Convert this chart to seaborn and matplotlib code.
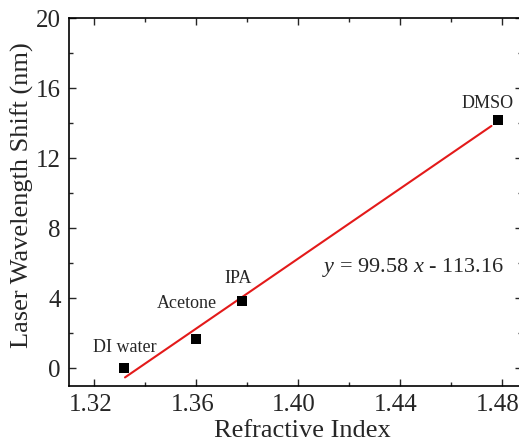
import matplotlib
matplotlib.use("Agg")
import matplotlib.pyplot as plt
from matplotlib.ticker import AutoMinorLocator, FixedLocator
from matplotlib.transforms import ScaledTranslation
import seaborn as sns
import pandas as pd

# data
solvents = ["DI water", "Acetone", "IPA", "DMSO"]
refractive_index = [1.3315, 1.36, 1.378, 1.4784]
wavelength_shift = [0.0, 1.7, 3.83, 14.2]
fit_x = [1.332, 1.476]
fit_y = [-0.51, 13.84]
x_ticks = [1.32, 1.36, 1.40, 1.44, 1.48]
y_ticks = [0, 4, 8, 12, 16, 20]

sns.set_style("ticks")
plt.rcParams["font.family"] = ["Liberation Serif", "DejaVu Serif"]
plt.rcParams["mathtext.fontset"] = "custom"
plt.rcParams["mathtext.it"] = "Liberation Serif:italic"
plt.rcParams["mathtext.rm"] = "Liberation Serif"

df = pd.DataFrame({"n": refractive_index, "shift": wavelength_shift, "name": solvents})
fit = pd.DataFrame({"x": fit_x, "y": fit_y})

fig = plt.figure(figsize=(5.19, 4.43), dpi=100)
L, R, T, B = 69, 522, 18, 386
ax = fig.add_axes([L / 519, 1 - B / 443, (R - L) / 519, (B - T) / 443])

sns.lineplot(data=fit, x="x", y="y", ax=ax, color="#e31a1a", linewidth=1.5, zorder=2)
sns.scatterplot(data=df, x="n", y="shift", ax=ax, marker="s", s=62, color="black",
                edgecolor="black", linewidth=0, zorder=3)

label_pos = {"DI water": (1.3318, 1.2), "Acetone": (1.3563, 3.7),
             "IPA": (1.3763, 5.14), "DMSO": (1.4745, 15.1)}
for name in solvents:
    tx, ty = label_pos[name]
    ax.text(tx, ty, name, ha="center", va="center", fontsize=13)

ax.text(1.4095, 5.77, r"$\it{y}$ = 99.58 $\it{x}$ - 113.16", ha="left", va="center", fontsize=16)

ax.set_xlim(1.31, 1.488)
ax.set_ylim(-1, 20)
ax.xaxis.set_major_locator(FixedLocator(x_ticks))
ax.yaxis.set_major_locator(FixedLocator(y_ticks))
ax.set_xticklabels([f"{v:.2f}" for v in x_ticks])
ax.set_yticklabels([str(v) for v in y_ticks])
ax.xaxis.set_minor_locator(AutoMinorLocator(2))
ax.yaxis.set_minor_locator(AutoMinorLocator(2))
ax.tick_params(which="both", direction="in", top=True, right=True, width=1.0, labelsize=18)
ax.tick_params(which="major", length=5, pad=6)
ax.tick_params(which="minor", length=3)
for s in ax.spines.values():
    s.set_linewidth(1.2)
    s.set_color("black")

offset = ScaledTranslation(-4 / 100, 0, fig.dpi_scale_trans)
for lab in ax.get_xticklabels():
    lab.set_transform(lab.get_transform() + offset)

ax.set_xlabel("Refractive Index", fontsize=19)
ax.set_ylabel("Laser Wavelength Shift (nm)", fontsize=19)
ax.xaxis.set_label_coords((302 - L) / (R - L), -(437 - B) / (B - T), transform=ax.transAxes)
ax.xaxis.label.set_va("baseline")
ax.yaxis.set_label_coords(-(L - 22) / (R - L), (B - 195) / (B - T), transform=ax.transAxes)
ax.yaxis.label.set_va("center")

fig.savefig("out.png", dpi=100)
